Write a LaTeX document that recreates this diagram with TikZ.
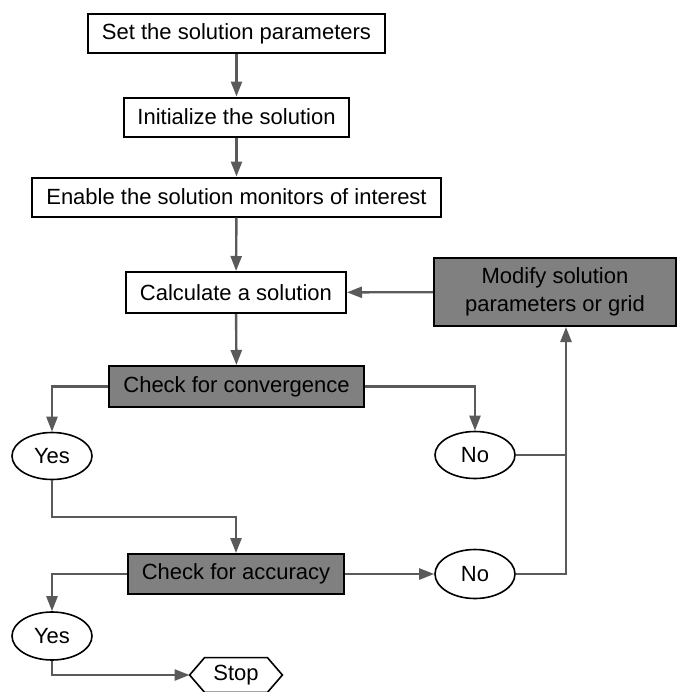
\documentclass[tikz,border=0pt]{standalone}
\usepackage{fontspec}
\setmainfont{Liberation Sans}
\usetikzlibrary{arrows.meta,shapes.geometric}
\definecolor{boxgray}{RGB}{128,128,128}
\definecolor{linegray}{RGB}{90,90,90}
\begin{document}
\begin{tikzpicture}[x=0.5pt,y=-0.5pt,
  every node/.style={font=\fontsize{11}{14}\selectfont, inner sep=0pt},
  stepbox/.style={draw=black, line width=1pt, fill=white, minimum height=19.5pt},
  graybox/.style={stepbox, fill=boxgray},
  oval/.style={ellipse, draw=black, line width=0.8pt, fill=white, minimum width=40pt, minimum height=23.5pt},
  conn/.style={draw=linegray, line width=1.2pt},
  arr/.style={conn, -{Triangle[length=7.5pt,width=5.5pt]}}
]
\useasboundingbox (0,0) rectangle (678,692);

\node[stepbox, minimum width=148.5pt] (b1) at (236.5,33.5) {Set the solution parameters};
\node[stepbox, minimum width=112.5pt] (b2) at (236.5,117) {Initialize the solution};
\node[stepbox, minimum width=204.5pt] (b3) at (236.5,197) {Enable the solution monitors of interest};
\node[stepbox, minimum width=110pt, minimum height=20.5pt] (b4) at (236,292.5) {Calculate a solution};
\node[graybox, minimum width=121pt, minimum height=34pt, align=center] (mod) at (555,292) {Modify solution\\parameters or grid};
\node[graybox, minimum width=127.5pt, minimum height=20.5pt] (conv) at (236.5,386.5) {Check for convergence};
\node[oval] (yes1) at (52,456) {Yes};
\node[oval] (no1) at (475,455) {No};
\node[graybox, minimum width=108pt, minimum height=20pt] (acc) at (236,574) {Check for accuracy};
\node[oval, minimum height=24.5pt] (no2) at (475,574) {No};
\node[oval, minimum height=24pt] (yes2) at (52,636) {Yes};
\node[minimum width=46pt, minimum height=17pt] (stop) at (236,675) {Stop};
\draw[line width=0.8pt] (stop.west) -- ([xshift=7.5pt]stop.north west) -- ([xshift=-7.5pt]stop.north east) -- (stop.east) -- ([xshift=-7.5pt]stop.south east) -- ([xshift=7.5pt]stop.south west) -- cycle;

\coordinate (vx) at (566,0);
\coordinate (mid) at (236,517);

\draw[arr] (b1) -- (b2);
\draw[arr] (b2) -- (b3);
\draw[arr] (b3) -- (b4);
\draw[arr] (mod) -- (b4);
\draw[arr] (b4) -- (conv);
\draw[arr] (conv.west) -| (yes1.north);
\draw[arr] (conv.east) -| (no1.north);
\draw[conn] (no1.east) -- (no1.east -| vx);
\draw[arr] (no2.east) -| (vx |- mod.south);
\draw[arr] (yes1.south) -- (yes1.south |- mid) -| (acc.north);
\draw[arr] (acc.east) -- (no2.west);
\draw[arr] (acc.west) -| (yes2.north);
\draw[arr] (yes2.south) |- (stop.west);
\end{tikzpicture}
\end{document}
